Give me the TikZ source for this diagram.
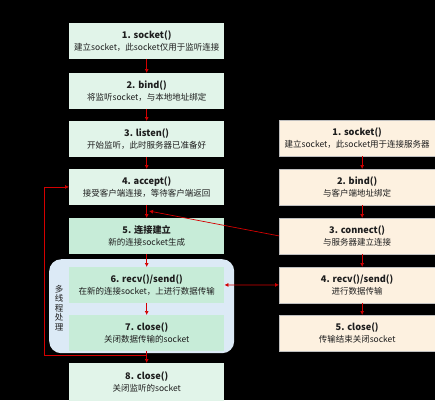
\documentclass[tikz,border=0pt]{standalone}
\usepackage{fontspec}
\setmainfont{Noto Sans CJK SC}
\usetikzlibrary{arrows.meta}
\definecolor{lgreen}{HTML}{E1F4E9}
\definecolor{mgreen}{HTML}{C7ECD8}
\definecolor{cblue}{HTML}{DCEAF6}
\definecolor{peach}{HTML}{FDF1E0}
\definecolor{ared}{HTML}{D40000}
\definecolor{tcol}{HTML}{1E1E1E}
\newcommand\tit[1]{{\fontsize{9.2}{12}\selectfont\bfseries #1}}
\begin{document}
\begin{tikzpicture}[x=1pt,y=-1pt,
  box/.style={minimum width=155pt, minimum height=35.5pt, inner sep=0pt, align=center,
    text=tcol, font=\fontsize{8.5}{12}\selectfont, anchor=north west},
  lbox/.style={box, fill=lgreen},
  gbox/.style={box, fill=mgreen},
  rbox/.style={box, minimum width=156pt, fill=peach, draw=gray!50, line width=0.3pt},
  arr/.style={draw=ared, line width=0.7pt, -{Latex[length=4pt,width=4pt]}},
  darr/.style={draw=ared, line width=0.7pt, {Latex[length=4pt,width=4pt]}-{Latex[length=4pt,width=4pt]}}
]
\fill[black] (0,0) rectangle (435,400);
\useasboundingbox (0,0) rectangle (435,400);

% group container
\node[fill=cblue, rounded corners=12pt, minimum width=185pt, minimum height=94pt,
  inner sep=0pt, anchor=north west] (grp) at (49,259) {};
\node[text=tcol, align=center, font=\fontsize{8.5}{9.5}\selectfont] (mt) at (59,308) {多\\线\\程\\处\\理};

% server side
\node[lbox] (s1) at (69,23) {\tit{1. socket()}\\建立socket，此socket仅用于监听连接};
\node[lbox] (s2) at (69,73) {\tit{2. bind()}\\将监听socket，与本地地址绑定};
\node[lbox] (s3) at (69,121) {\tit{3. listen()}\\开始监听，此时服务器已准备好};
\node[lbox] (s4) at (69,169) {\tit{4. accept()}\\接受客户端连接，等待客户端返回};
\node[gbox] (s5) at (69,218) {\tit{5. 连接建立}\\新的连接socket生成};
\node[gbox] (s6) at (69,267) {\tit{6. recv()/send()}\\在新的连接socket，上进行数据传输};
\node[gbox] (s7) at (69,315) {\tit{7. close()}\\关闭数据传输的socket};
\node[lbox, minimum height=38pt] (s8) at (69,363) {\tit{8. close()}\\关闭监听的socket};

% client side
\node[rbox] (r1) at (279,120) {\tit{1. socket()}\\建立socket，此socket用于连接服务器};
\node[rbox] (r2) at (279,169) {\tit{2. bind()}\\与客户端地址绑定};
\node[rbox] (r3) at (279,218) {\tit{3. connect()}\\与服务器建立连接};
\node[rbox] (r4) at (279,267) {\tit{4. recv()/send()}\\进行数据传输};
\node[rbox] (r5) at (279,315) {\tit{5. close()}\\传输结束关闭socket};

% server arrows
\draw[arr] (s1.south) -- (s2.north);
\draw[arr] (s2.south) -- (s3.north);
\draw[arr] (s3.south) -- (s4.north);
\draw[arr] (s4.south) -- (s5.north);
\draw[arr] (s5.south) -- (s6.north);
\draw[arr] (s6.south) -- (s7.north);
\draw[arr] (s7.south) -- (s8.north);

% client arrows
\draw[arr] ([xshift=5pt]r1.south) -- ([xshift=5pt]r2.north);
\draw[arr] ([xshift=5pt]r2.south) -- ([xshift=5pt]r3.north);
\draw[arr] ([xshift=5pt]r3.south) -- ([xshift=5pt]r4.north);
\draw[arr] ([xshift=5pt]r4.south) -- ([xshift=5pt]r5.north);

% connect
\coordinate (j) at (149,211);
\draw[arr] (r3.west) -- (j);
% data exchange
\draw[darr] (s6.east) -- (r4.west);
% loop back
\coordinate (lp) at (146.5,355);
\coordinate (lc) at (44,355);
\draw[arr] (lp) -- (lc) |- (s4.west);
\end{tikzpicture}
\end{document}
